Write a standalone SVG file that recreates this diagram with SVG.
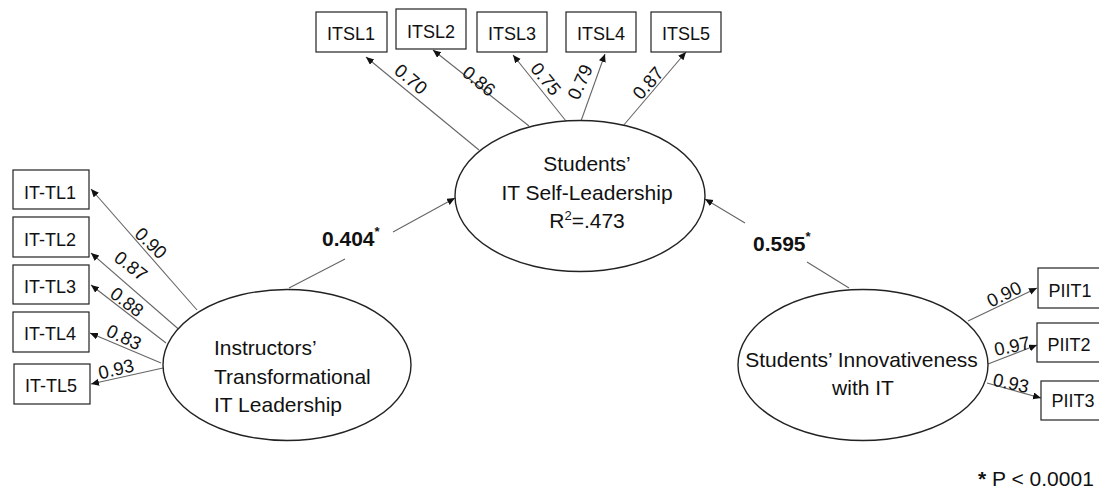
<svg xmlns="http://www.w3.org/2000/svg" width="1099" height="498" viewBox="0 0 1099 498">
<defs>
<marker id="arr" markerUnits="userSpaceOnUse" markerWidth="9" markerHeight="8" refX="8" refY="3.5" orient="auto">
<path d="M0,0 L8,3.5 L0,7 z" fill="#111"/>
</marker>
<style>
text{font-family:"Liberation Sans",Arial,sans-serif;fill:#111}
.box{fill:#fff;stroke:#222;stroke-width:1.2}
.ell{fill:#fff;stroke:#222;stroke-width:1.4}
.bl{font-size:18px;text-anchor:middle}
.el{font-size:21px}
.ld{font-size:18.5px;text-anchor:middle}
.cn{fill:none;stroke:#666;stroke-width:1.1;marker-end:url(#arr)}
.pl{font-size:21px;font-weight:bold}
</style>
</defs>
<rect width="1099" height="498" fill="#fff"/>

<g id="connectors">
<path class="cn" d="M479,150 L366,57"/>
<path class="cn" d="M529,126 L433,50"/>
<path class="cn" d="M566,121 L513,55"/>
<path class="cn" d="M581,121 L605,54"/>
<path class="cn" d="M617,133 L686,52"/>
<path class="cn" d="M197,310 L91,189"/>
<path class="cn" d="M183,333 L91,253"/>
<path class="cn" d="M166,343 L91,285"/>
<path class="cn" d="M161,363 L90,333"/>
<path class="cn" d="M163,368 L91,384"/>
<path class="cn" d="M968,321 L1037,288"/>
<path class="cn" d="M988,364 L1037,345"/>
<path class="cn" d="M987,383 L1041,398"/>
<path class="cn" d="M289,288 L345,259 M393,232 L455,198"/>
<path class="cn" d="M849,288 L807,262 M745,223 L705,199"/>
<text class="ld" transform="translate(411,79) rotate(40)" y="6.5">0.70</text>
<text class="ld" transform="translate(479,81) rotate(39)" y="6.5">0.86</text>
<text class="ld" transform="translate(546,79) rotate(51)" y="6.5">0.75</text>
<text class="ld" transform="translate(580,82) rotate(-66)" y="6.5">0.79</text>
<text class="ld" transform="translate(648,83) rotate(-49)" y="6.5">0.87</text>
<text class="ld" transform="translate(151,243) rotate(44)" y="6.5">0.90</text>
<text class="ld" transform="translate(131,266) rotate(38)" y="6.5">0.87</text>
<text class="ld" transform="translate(127,302) rotate(37)" y="6.5">0.88</text>
<text class="ld" transform="translate(124,337) rotate(25)" y="6.5">0.83</text>
<text class="ld" transform="translate(116,369) rotate(-13)" y="6.5">0.93</text>
<text class="ld" transform="translate(1004,294) rotate(-26)" y="6.5">0.90</text>
<text class="ld" transform="translate(1012,346) rotate(-12)" y="6.5">0.97</text>
<text class="ld" transform="translate(1011,383) rotate(12)" y="6.5">0.93</text>
<text class="pl" x="322" y="246">0.404<tspan font-size="13" dy="-10">*</tspan></text>
<text class="pl" x="753" y="251">0.595<tspan font-size="13" dy="-10">*</tspan></text>
</g>

<g id="ITSL1"><rect class="box" x="316" y="12" width="71" height="40"/><text class="bl" x="351" y="40">ITSL1</text></g>
<g id="ITSL2"><rect class="box" x="396" y="9" width="70" height="40"/><text class="bl" x="431" y="37.5">ITSL2</text></g>
<g id="ITSL3"><rect class="box" x="477" y="12" width="70" height="40"/><text class="bl" x="512" y="40">ITSL3</text></g>
<g id="ITSL4"><rect class="box" x="566" y="12" width="70" height="40"/><text class="bl" x="601" y="40">ITSL4</text></g>
<g id="ITSL5"><rect class="box" x="651" y="12" width="70" height="40"/><text class="bl" x="686" y="39.5">ITSL5</text></g>

<g id="IT-TL1"><rect class="box" x="13" y="170" width="76" height="39"/><text class="bl" x="50" y="199">IT-TL1</text></g>
<g id="IT-TL2"><rect class="box" x="13" y="217" width="76" height="40"/><text class="bl" x="50" y="246">IT-TL2</text></g>
<g id="IT-TL3"><rect class="box" x="13" y="265" width="76" height="39"/><text class="bl" x="50" y="293">IT-TL3</text></g>
<g id="IT-TL4"><rect class="box" x="13" y="312" width="76" height="40"/><text class="bl" x="50" y="340">IT-TL4</text></g>
<g id="IT-TL5"><rect class="box" x="14" y="364" width="76" height="40"/><text class="bl" x="51" y="392">IT-TL5</text></g>

<g id="PIIT1"><rect class="box" x="1038" y="268" width="64" height="40"/><text class="bl" x="1070" y="296.5">PIIT1</text></g>
<g id="PIIT2"><rect class="box" x="1037" y="323" width="64" height="39"/><text class="bl" x="1069" y="350.5">PIIT2</text></g>
<g id="PIIT3"><rect class="box" x="1041" y="381" width="64" height="39"/><text class="bl" x="1073" y="406.5">PIIT3</text></g>

<g id="self-leadership">
<ellipse class="ell" cx="580" cy="196" rx="125" ry="75.5"/>
<text class="el" text-anchor="middle" x="587" y="171">Students’</text>
<text class="el" text-anchor="middle" x="587" y="199.5">IT Self-Leadership</text>
<text class="el" text-anchor="middle" x="587" y="228">R<tspan font-size="13" dy="-8">2</tspan><tspan dy="8">=.473</tspan></text>
</g>

<g id="transformational-leadership">
<ellipse class="ell" cx="287" cy="365" rx="124" ry="75.5"/>
<text class="el" x="214" y="355">Instructors’</text>
<text class="el" x="214" y="383.5">Transformational</text>
<text class="el" x="214" y="412">IT Leadership</text>
</g>

<g id="innovativeness">
<ellipse class="ell" cx="863" cy="365" rx="125" ry="75.5"/>
<text class="el" text-anchor="middle" x="861.5" y="366.5">Students’ Innovativeness</text>
<text class="el" text-anchor="middle" x="863" y="395">with IT</text>
</g>

<text class="el" x="978" y="486"><tspan font-weight="bold">*</tspan> P &lt; 0.0001</text>
</svg>
